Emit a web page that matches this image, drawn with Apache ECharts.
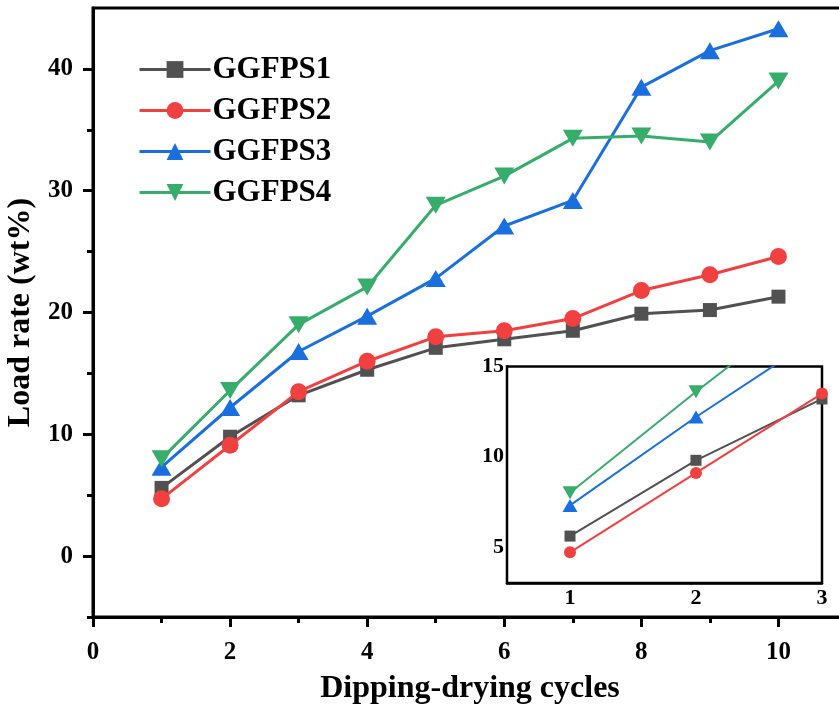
<!DOCTYPE html>
<html>
<head>
<meta charset="utf-8">
<script src="https://cdn.jsdelivr.net/npm/echarts@6/dist/echarts.min.js"></script>
<style>
  html, body { margin: 0; padding: 0; background: #fff; }
  #main { width: 839px; height: 709px; }
</style>
</head>
<body>
<div id="main"></div>
<script>
var cycles = [1, 2, 3, 4, 5, 6, 7, 8, 9, 10];
var ggfps1 = [5.6, 9.8, 13.2, 15.3, 17.1, 17.8, 18.5, 19.9, 20.2, 21.3];
var ggfps2 = [4.7, 9.1, 13.5, 16.0, 18.0, 18.5, 19.5, 21.8, 23.1, 24.6];
var ggfps3 = [7.3, 12.2, 16.8, 19.7, 22.8, 27.1, 29.2, 38.5, 41.5, 43.3];
var ggfps4 = [8.0, 13.6, 19.0, 22.1, 28.8, 31.2, 34.3, 34.5, 34.0, 39.0];
var names = ['GGFPS1', 'GGFPS2', 'GGFPS3', 'GGFPS4'];
var colors = ['#515151', '#F14040', '#1A6FDF', '#37AD6B'];

var xMajor = [0, 2, 4, 6, 8, 10];
var xMinor = [1, 3, 5, 7, 9];
var yMajor = [0, 10, 20, 30, 40];
var yMinor = [-5, 5, 15, 25, 35];
var insetX = [1, 2, 3];
var insetXMinor = [1.5, 2.5];
var insetY = [5, 10, 15];
var insetYMinor = [7.5, 12.5];

var font = 'Liberation Serif';
var allData = [ggfps1, ggfps2, ggfps3, ggfps4];

function pairs(vals) {
  return cycles.map(function (c, i) { return [c, vals[i]]; });
}

var mainSym = [
  { symbol: 'rect', size: 14, rotate: 0 },
  { symbol: 'circle', size: 17, rotate: 0 },
  { symbol: 'triangle', size: [20, 17], rotate: 0 },
  { symbol: 'triangle', size: [20, 17], rotate: 180 }
];
var insetSym = [
  { symbol: 'rect', size: 11 },
  { symbol: 'circle', size: 12 },
  { symbol: 'triangle', size: [15, 13] },
  { symbol: 'triangle', size: [15, 13] }
];

var series = [];
allData.forEach(function (vals, i) {
  series.push({
    name: names[i],
    type: 'line',
    xAxisIndex: 0,
    yAxisIndex: 0,
    data: pairs(vals),
    symbol: mainSym[i].symbol,
    symbolSize: mainSym[i].size,
    symbolRotate: mainSym[i].rotate,
    lineStyle: { color: colors[i], width: 3 },
    itemStyle: { color: colors[i] },
    z: 3 + i
  });
});
allData.forEach(function (vals, i) {
  series.push({
    name: names[i],
    type: 'line',
    xAxisIndex: 2,
    yAxisIndex: 2,
    data: pairs(vals),
    clip: true,
    symbol: insetSym[i].symbol,
    symbolSize: insetSym[i].size,
    symbolRotate: mainSym[i].rotate,
    lineStyle: { color: colors[i], width: 2 },
    itemStyle: { color: colors[i] },
    z: 3 + i
  });
});

var chart = echarts.init(document.getElementById('main'));
var lbl = { fontFamily: font, fontWeight: 'bold', color: '#000' };

chart.setOption({
  backgroundColor: '#fff',
  animation: false,
  legend: {
    data: names,
    orient: 'vertical',
    left: 133,
    top: 49,
    itemWidth: 71,
    itemHeight: 21,
    itemGap: 10,
    lineStyle: { width: 3 },
    textStyle: { fontFamily: font, fontWeight: 'bold', fontSize: 31, color: '#000', lineHeight: 30, padding: [0, 0, 0, -3] }
  },
  grid: [
    { left: 93, top: 8, right: -8, bottom: 92, show: true, borderColor: '#000', borderWidth: 3, outerBoundsMode: 'none' },
    { left: 507, top: 366.5, width: 315, height: 216.5, show: true, borderColor: '#000', borderWidth: 2.5, backgroundColor: '#fff', outerBoundsMode: 'none', z: 1 }
  ],
  xAxis: [
    {
      gridIndex: 0, type: 'value', min: 0, max: 11,
      name: 'Dipping-drying cycles', nameLocation: 'middle', nameGap: 56,
      nameTextStyle: { fontFamily: font, fontWeight: 'bold', fontSize: 32, color: '#000' },
      axisLine: { show: true, onZero: false, lineStyle: { color: '#000', width: 3 } },
      axisTick: { show: true, customValues: xMajor, length: 10, lineStyle: { color: '#000', width: 3 } },
      axisLabel: Object.assign({ customValues: xMajor, fontSize: 25, margin: 23 }, lbl),
      splitLine: { show: false }
    },
    {
      gridIndex: 0, type: 'value', min: 0, max: 11, position: 'bottom',
      axisLine: { show: false, onZero: false },
      axisTick: { show: true, customValues: xMinor, length: 6, lineStyle: { color: '#000', width: 3 } },
      axisLabel: { show: false },
      splitLine: { show: false }
    },
    {
      gridIndex: 1, type: 'value', min: 0.5, max: 3,
      axisLine: { show: true, onZero: false, lineStyle: { color: '#000', width: 2.5 } },
      axisTick: { show: true, inside: true, customValues: insetX, length: 5, lineStyle: { color: '#000', width: 2 } },
      axisLabel: Object.assign({ customValues: insetX, fontSize: 22, margin: 4 }, lbl),
      splitLine: { show: false }
    },
    {
      gridIndex: 1, type: 'value', min: 0.5, max: 3, position: 'bottom',
      axisLine: { show: false, onZero: false },
      axisTick: { show: true, inside: true, customValues: insetXMinor, length: 3, lineStyle: { color: '#000', width: 2 } },
      axisLabel: { show: false },
      splitLine: { show: false }
    }
  ],
  yAxis: [
    {
      gridIndex: 0, type: 'value', min: -5, max: 45,
      name: 'Load rate (wt%)', nameLocation: 'middle', nameGap: 49,
      nameTextStyle: { fontFamily: font, fontWeight: 'bold', fontSize: 32, color: '#000' },
      axisLine: { show: true, onZero: false, lineStyle: { color: '#000', width: 3 } },
      axisTick: { show: true, customValues: yMajor, length: 10, lineStyle: { color: '#000', width: 3 } },
      axisLabel: Object.assign({ customValues: yMajor, fontSize: 25, margin: 20 }, lbl),
      splitLine: { show: false }
    },
    {
      gridIndex: 0, type: 'value', min: -5, max: 45, position: 'left',
      axisLine: { show: false, onZero: false },
      axisTick: { show: true, customValues: yMinor, length: 6, lineStyle: { color: '#000', width: 3 } },
      axisLabel: { show: false },
      splitLine: { show: false }
    },
    {
      gridIndex: 1, type: 'value', min: 3, max: 15,
      axisLine: { show: true, onZero: false, lineStyle: { color: '#000', width: 2.5 } },
      axisTick: { show: true, inside: true, customValues: insetY, length: 5, lineStyle: { color: '#000', width: 2 } },
      axisLabel: Object.assign({ customValues: insetY, fontSize: 22, margin: 3 }, lbl),
      splitLine: { show: false }
    },
    {
      gridIndex: 1, type: 'value', min: 3, max: 15, position: 'left',
      axisLine: { show: false, onZero: false },
      axisTick: { show: true, inside: true, customValues: insetYMinor, length: 3, lineStyle: { color: '#000', width: 2 } },
      axisLabel: { show: false },
      splitLine: { show: false }
    }
  ],
  series: series
});
</script>
</body>
</html>
